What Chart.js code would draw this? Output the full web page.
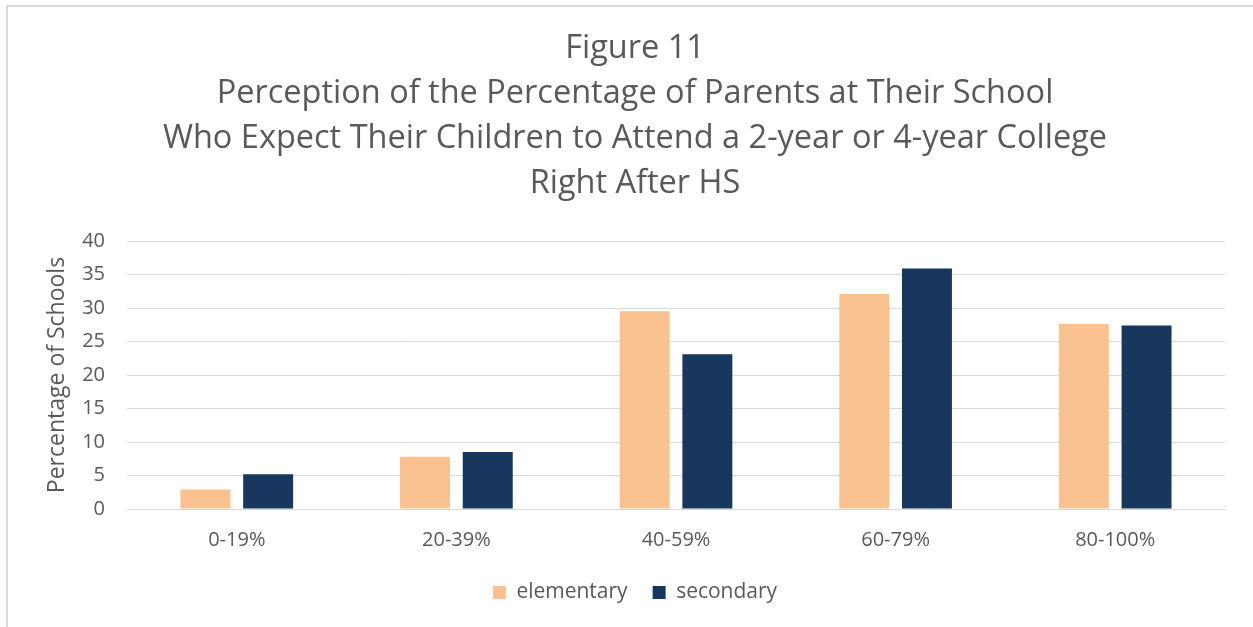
<!DOCTYPE html>
<html>
<head>
<meta charset="utf-8">
<script src="https://cdn.jsdelivr.net/npm/chart.js@4/dist/chart.umd.min.js"></script>
<style>
  html, body { margin: 0; padding: 0; background: #fff; overflow: hidden; }
  #frame {
    position: absolute; left: 6px; top: 5px; width: 1400px; height: 800px;
    border-left: 2px solid #d9d9d9; border-top: 2px solid #d9d9d9;
  }
  #wrap { position: absolute; left: 0; top: 0; width: 1253px; height: 627px; }
</style>
</head>
<body>
<div id="frame"></div>
<div id="wrap"><canvas id="chart" width="1253" height="627"></canvas></div>
<script>
var categories = ['0-19%', '20-39%', '40-59%', '60-79%', '80-100%'];
var elementary = [2.9, 7.8, 29.5, 32.1, 27.6];
var secondary = [5.2, 8.5, 23.1, 35.9, 27.4];
var titleLines = [
    'Figure 11',
    'Perception of the Percentage of Parents at Their School',
    'Who Expect Their Children to Attend a 2-year or 4-year College',
    'Right After HS'
];

var textColor = '#595959';
var gridColor = '#d9d9d9';
Chart.defaults.font.family = '"Open Sans", sans-serif';
Chart.defaults.color = textColor;

var ctx = document.getElementById('chart').getContext('2d');
var chart = new Chart(ctx, {
    type: 'bar',
    data: {
        labels: categories,
        datasets: [{
            label: 'elementary',
            data: elementary,
            backgroundColor: '#f9c290',
            categoryPercentage: 0.571,
            barPercentage: 0.797
        }, {
            label: 'secondary',
            data: secondary,
            backgroundColor: '#17375e',
            categoryPercentage: 0.571,
            barPercentage: 0.797
        }]
    },
    options: {
        responsive: false,
        animation: false,
        // left padding keeps title and legend centred where the plot box expects them
        layout: { padding: { left: 45, right: 28, top: 0, bottom: 14 } },
        plugins: {
            title: {
                display: true,
                text: titleLines,
                color: textColor,
                font: { size: 32.5, weight: 'normal', lineHeight: 45 / 32.5 },
                padding: { top: 26, bottom: 35 }
            },
            legend: {
                position: 'bottom',
                labels: {
                    boxWidth: 13,
                    boxHeight: 13,
                    padding: 25,
                    color: textColor,
                    font: { size: 21 }
                }
            },
            tooltip: { enabled: false }
        },
        scales: {
            x: {
                grid: { display: false },
                border: { color: gridColor, width: 1 },
                ticks: { padding: 11, font: { size: 20 }, color: textColor },
                afterFit: function(scale) { scale.height = 48; }
            },
            y: {
                min: 0,
                max: 40,
                ticks: { stepSize: 5, padding: 22, font: { size: 20 }, color: textColor },
                grid: { color: gridColor, lineWidth: 1, drawTicks: false },
                border: { display: false },
                title: {
                    display: true,
                    text: 'Percentage of Schools',
                    color: textColor,
                    font: { size: 23, lineHeight: 1 },
                    padding: { top: 1, bottom: 0 }
                },
                afterFit: function(scale) { scale.width = 82; }
            }
        }
    }
});
</script>
</body>
</html>
